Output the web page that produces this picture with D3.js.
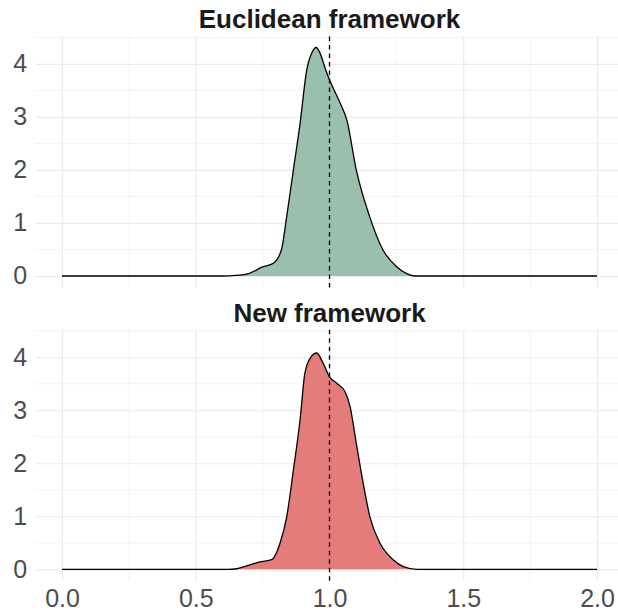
<!DOCTYPE html>
<html>
<head>
<meta charset="utf-8">
<script src="https://cdn.jsdelivr.net/npm/d3@7"></script>
<style>
  html, body { margin: 0; padding: 0; background: #fff; }
  svg { display: block; font-family: "Liberation Sans", Arial, sans-serif; }
</style>
</head>
<body>
<svg id="chart" width="618" height="615"></svg>
<script>
// ---- data ----
const panelTitles = ["Euclidean framework", "New framework"];
const xTickLabels = [0, 0.5, 1, 1.5, 2];
const yTickLabels = [0, 1, 2, 3, 4];
const refLine = 1;

const euclidX = [0.00, 0.60, 0.65, 0.70, 0.75, 0.79, 0.82, 0.84, 0.865, 0.89, 0.915, 0.935, 0.95, 0.965, 0.985, 1.00, 1.04, 1.065, 1.10, 1.15, 1.20, 1.25, 1.29, 1.32, 2.00];
const euclidY = [0, 0, 0.01, 0.05, 0.17, 0.24, 0.49, 1.12, 2.00, 2.88, 3.89, 4.22, 4.31, 4.20, 3.90, 3.70, 3.26, 2.94, 2.00, 1.12, 0.49, 0.18, 0.04, 0, 0];

const newX = [0.00, 0.62, 0.653, 0.70, 0.74, 0.784, 0.815, 0.84, 0.865, 0.89, 0.908, 0.93, 0.952, 0.975, 1.00, 1.027, 1.058, 1.077, 1.10, 1.126, 1.151, 1.189, 1.238, 1.276, 1.326, 2.00];
const newY = [0, 0, 0.01, 0.08, 0.14, 0.18, 0.49, 0.99, 1.87, 2.82, 3.70, 4.00, 4.08, 3.90, 3.63, 3.51, 3.35, 3.07, 2.38, 1.62, 0.99, 0.49, 0.18, 0.05, 0, 0];

const fills = ["#9bbfad", "#e47c7c"];

// ---- layout ----
const svg = d3.select("#chart");
const W = 618, H = 615;
svg.append("rect").attr("width", W).attr("height", H).attr("fill", "#fff");

const x = d3.scaleLinear().domain([-0.1, 2.1]).range([35.25, 623.75]);
const yDomain = [-0.2155, 4.5255];
const panels = [
  { title: panelTitles[0], xs: euclidX, ys: euclidY, fill: fills[0], y: d3.scaleLinear().domain(yDomain).range([287.4, 36.1]) },
  { title: panelTitles[1], xs: newX, ys: newY, fill: fills[1], y: d3.scaleLinear().domain(yDomain).range([580.7, 329.4]) }
];

const gridColor = "#ebebeb";
const xMinor = [0.25, 0.75, 1.25, 1.75];
const yMinor = [0.5, 1.5, 2.5, 3.5, 4.5];

panels.forEach((p, i) => {
  const y = p.y;
  const [x0, x1] = x.range();
  const [yb, yt] = y.range();
  const g = svg.append("g");

  // minor grid
  g.append("g").selectAll("line").data(yMinor).join("line")
    .attr("x1", x0).attr("x2", x1).attr("y1", d => y(d)).attr("y2", d => y(d))
    .attr("stroke", gridColor).attr("stroke-width", 0.6);
  g.append("g").selectAll("line").data(xMinor).join("line")
    .attr("x1", d => x(d)).attr("x2", d => x(d)).attr("y1", yb).attr("y2", yt)
    .attr("stroke", gridColor).attr("stroke-width", 0.6);

  // major grid via axes
  const gy = g.append("g").attr("transform", `translate(${x0},0)`)
    .call(d3.axisLeft(y).tickValues(yTickLabels).tickSize(-(x1 - x0)).tickFormat(""));
  gy.select(".domain").remove();
  gy.selectAll("line").attr("stroke", gridColor).attr("stroke-width", 1.2);
  const gx = g.append("g").attr("transform", `translate(0,${yb})`)
    .call(d3.axisBottom(x).tickValues(xTickLabels).tickSize(-(yb - yt)).tickFormat(""));
  gx.select(".domain").remove();
  gx.selectAll("line").attr("stroke", gridColor).attr("stroke-width", 1.2);

  // density
  const data = p.xs.map((v, k) => [v, p.ys[k]]);
  const area = d3.area().x(d => x(d[0])).y0(y(0)).y1(d => y(d[1])).curve(d3.curveMonotoneX);
  const line = d3.line().x(d => x(d[0])).y(d => y(d[1])).curve(d3.curveMonotoneX);
  g.append("path").datum(data).attr("d", area).attr("fill", p.fill);
  g.append("path").datum(data).attr("d", line).attr("fill", "none")
    .attr("stroke", "#000").attr("stroke-width", 1.3);

  // reference line
  g.append("line").attr("x1", x(refLine)).attr("x2", x(refLine)).attr("y1", yb).attr("y2", yt)
    .attr("stroke", "#000").attr("stroke-width", 1.3).attr("stroke-dasharray", "4.5,4");

  // y labels
  const ly = g.append("g").attr("transform", `translate(${x0},0)`)
    .call(d3.axisLeft(y).tickValues(yTickLabels).tickSize(0).tickPadding(8).tickFormat(d3.format("d")));
  ly.select(".domain").remove();
  ly.selectAll("text").attr("fill", "#4d4d4d").style("font-size", "25px")
    .style("font-family", "'Liberation Sans', Arial, sans-serif");

  // title
  g.append("text").attr("x", (x0 + x1) / 2).attr("y", yt - 7.8)
    .attr("text-anchor", "middle").attr("fill", "#1a1a1a")
    .style("font-size", "26px").style("font-weight", "bold").text(p.title);

  // x labels on bottom panel
  if (i === panels.length - 1) {
    const lx = g.append("g").attr("transform", `translate(0,${yb})`)
      .call(d3.axisBottom(x).tickValues(xTickLabels).tickSize(0).tickPadding(8.5).tickFormat(d3.format(".1f")));
    lx.select(".domain").remove();
    lx.selectAll("text").attr("fill", "#4d4d4d").style("font-size", "25px")
      .style("font-family", "'Liberation Sans', Arial, sans-serif");
  }
});
</script>
</body>
</html>
